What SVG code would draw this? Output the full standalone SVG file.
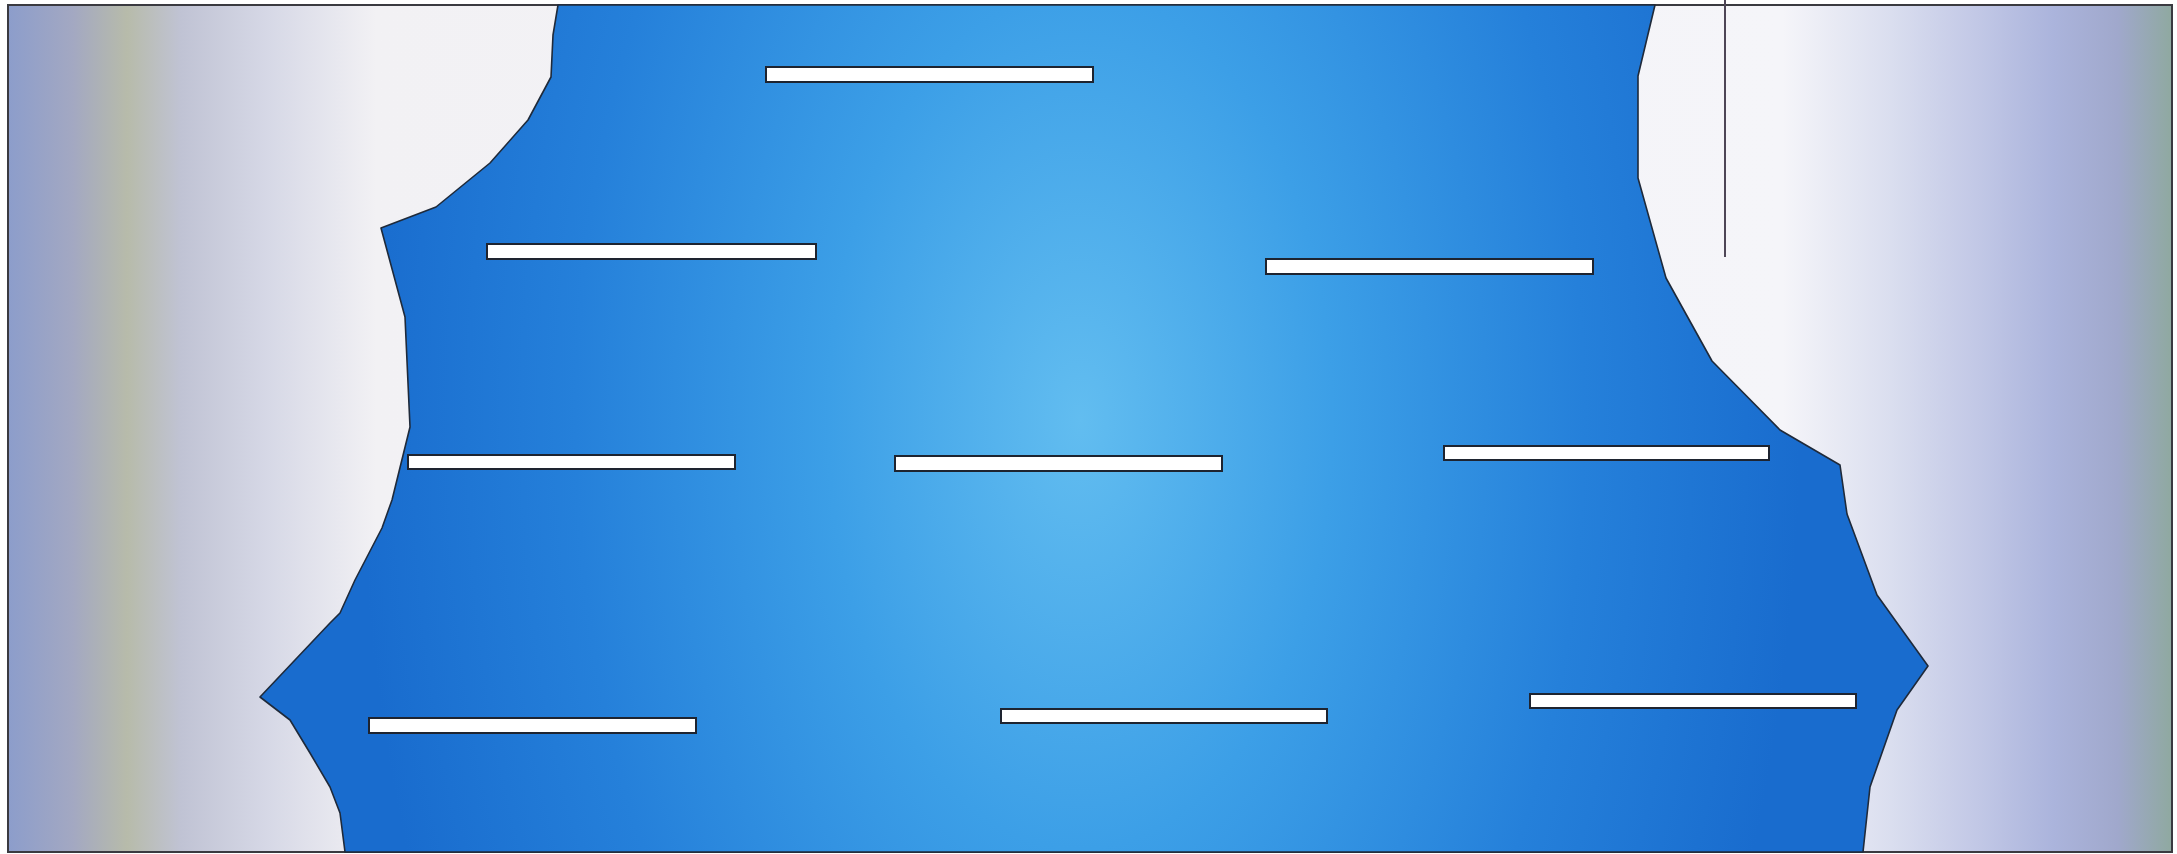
<svg xmlns="http://www.w3.org/2000/svg" width="2177" height="854" viewBox="0 0 2177 854">
<defs>
<linearGradient id="bank" x1="0" y1="0" x2="1" y2="0">
<stop offset="0" stop-color="#8c9dcb"/>
<stop offset="0.03" stop-color="#a3a8c2"/>
<stop offset="0.055" stop-color="#b7bbaa"/>
<stop offset="0.08" stop-color="#c0c3d4"/>
<stop offset="0.12" stop-color="#d6d8e6"/>
<stop offset="0.17" stop-color="#f2f1f4"/>
<stop offset="0.82" stop-color="#f5f5f9"/>
<stop offset="0.87" stop-color="#dadeef"/>
<stop offset="0.91" stop-color="#c2c8e6"/>
<stop offset="0.945" stop-color="#abb4dc"/>
<stop offset="0.975" stop-color="#a0a8cc"/>
<stop offset="1" stop-color="#8fa9a0"/>
</linearGradient>
<radialGradient id="water" gradientUnits="userSpaceOnUse" cx="1080" cy="420" r="720" gradientTransform="translate(1080 420) scale(1 1.7) translate(-1080 -420)">
<stop offset="0" stop-color="#62bdf0"/>
<stop offset="0.35" stop-color="#3c9fe7"/>
<stop offset="0.7" stop-color="#2580da"/>
<stop offset="1" stop-color="#196cce"/>
</radialGradient>
<style>
.bar{fill:#ffffff;stroke:#1e2430;stroke-width:2}
.river{fill:url(#water);stroke:#1f2a3a;stroke-width:1.6;stroke-linejoin:round}
.frame{fill:url(#bank);stroke:#3a3a40;stroke-width:2}
</style>
</defs>
<rect width="2177" height="854" fill="#ffffff"/>
<rect class="frame" x="8" y="5" width="2164" height="847"/>
<path class="river" d="M558,5 L553,35 L551,77 L528,120 L490,163 L436,207 L381,228 L405,317 L410,427 L392,500 L382,528 L355,580 L340,613 L330,623 L260,697 L290,720 L310,753 L330,787 L340,813 L345,852 L1863,852 L1870,787 L1897,710 L1928,666 L1877,595 L1847,514 L1840,465 L1780,430 L1712,361 L1666,278 L1638,178 L1638,76 L1655,5 Z"/>
<line x1="1725" y1="0" x2="1725" y2="257" stroke="#4e4656" stroke-width="2"/>
<g id="planks">
<rect id="bar1" class="bar" x="766" y="67" width="327" height="15"/>
<rect id="bar2" class="bar" x="487" y="244" width="329" height="15"/>
<rect id="bar3" class="bar" x="1266" y="259" width="327" height="15"/>
<rect id="bar4" class="bar" x="408" y="455" width="327" height="14"/>
<rect id="bar5" class="bar" x="895" y="456" width="327" height="15"/>
<rect id="bar6" class="bar" x="1444" y="446" width="325" height="14"/>
<rect id="bar7" class="bar" x="369" y="718" width="327" height="15"/>
<rect id="bar8" class="bar" x="1001" y="709" width="326" height="14"/>
<rect id="bar9" class="bar" x="1530" y="694" width="326" height="14"/>
</g>
</svg>
